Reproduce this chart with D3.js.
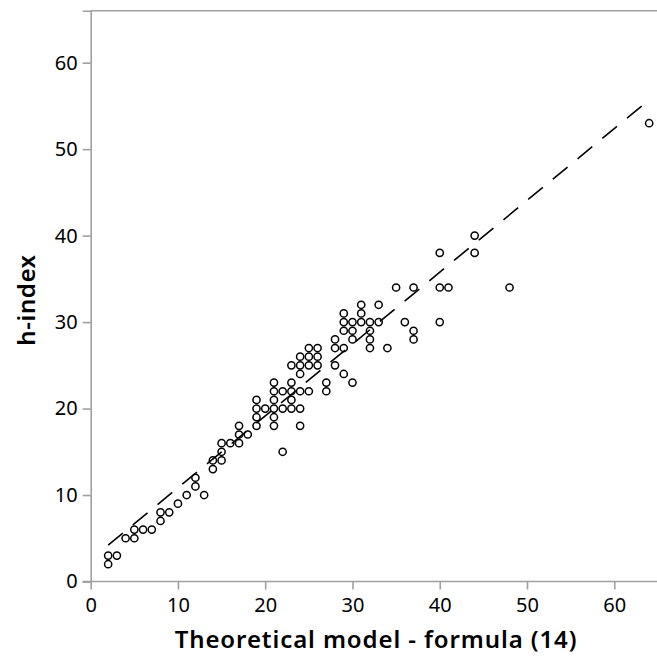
<!DOCTYPE html>
<html>
<head>
<meta charset="utf-8">
<script src="https://cdn.jsdelivr.net/npm/d3@7"></script>
<style>
  body { margin: 0; background: #fff; }
  text { font-family: "Noto Sans", "Open Sans", sans-serif; fill: #000; }
</style>
</head>
<body>
<div id="chart"></div>
<script>
// model estimate (x) vs observed h-index (y)
const modelValues = [2, 2, 3, 4, 5, 5, 6, 7, 8, 8, 9, 10, 11, 12, 12, 13, 14, 14, 15, 15, 15, 16, 17, 17, 17, 18,
  19, 19, 19, 19, 20, 21, 21, 21, 21, 21, 21, 22, 22, 22, 23, 23, 23, 23, 23, 24, 24, 24, 24, 24, 24,
  25, 25, 25, 25, 26, 26, 26, 27, 27, 28, 28, 28, 29, 29, 29, 29, 29, 30, 30, 30, 30, 31, 31, 31,
  32, 32, 32, 32, 33, 33, 34, 35, 36, 37, 37, 37, 40, 40, 40, 41, 44, 44, 48, 64];
const hIndex = [2, 3, 3, 5, 5, 6, 6, 6, 7, 8, 8, 9, 10, 11, 12, 10, 13, 14, 14, 15, 16, 16, 16, 17, 18, 17,
  18, 19, 20, 21, 20, 18, 19, 20, 21, 22, 23, 15, 20, 22, 20, 21, 22, 23, 25, 18, 20, 22, 24, 25, 26,
  22, 25, 26, 27, 25, 26, 27, 22, 23, 25, 27, 28, 24, 27, 29, 30, 31, 23, 28, 29, 30, 30, 31, 32,
  27, 28, 29, 30, 30, 32, 27, 34, 30, 28, 29, 34, 30, 34, 38, 34, 38, 40, 34, 53];

// fitted line end points
const fitX = [2, 64];
const fitY = [4.2, 55.7];

const xTicks = [0, 10, 20, 30, 40, 50, 60];
const yTicks = [0, 10, 20, 30, 40, 50, 60];

const points = modelValues.map((v, i) => ({ x: v, y: hIndex[i] }));

const width = 657;
const height = 658;
const axisColor = "#a0a0a0";

const svg = d3.select("#chart")
  .append("svg")
  .attr("width", width)
  .attr("height", height);

const x = d3.scaleLinear().domain([0, 65]).range([90.7, 657.9]);
const y = d3.scaleLinear().domain([0, 66]).range([581.5, 10.8]);

// top frame line
svg.append("line")
  .attr("x1", x(0)).attr("x2", width)
  .attr("y1", y(66)).attr("y2", y(66))
  .attr("stroke", axisColor)
  .attr("stroke-width", 1.6);

// x axis
const xAxis = svg.append("g")
  .attr("transform", `translate(0,${y(0)})`)
  .call(d3.axisBottom(x).tickValues(xTicks).tickSize(8).tickPadding(8));

// y axis
const yAxis = svg.append("g")
  .attr("transform", `translate(${x(0)},0)`)
  .call(d3.axisLeft(y).tickValues(yTicks).tickSize(8).tickPadding(5));

[xAxis, yAxis].forEach((g) => {
  g.select(".domain").attr("stroke", axisColor).attr("stroke-width", 1.6);
  g.selectAll(".tick line").attr("stroke", axisColor).attr("stroke-width", 1.6);
  g.selectAll(".tick text").style("font-size", "20px").attr("fill", "#000");
});
xAxis.select(".domain").attr("d", `M${x(0) - 8},0H${width}`);

// dashed fit line
svg.append("line")
  .attr("x1", x(fitX[0])).attr("y1", y(fitY[0]))
  .attr("x2", x(fitX[1])).attr("y2", y(fitY[1]))
  .attr("stroke", "#000")
  .attr("stroke-width", 1.6)
  .attr("stroke-dasharray", "19,13");

// points
svg.selectAll("circle")
  .data(points)
  .enter()
  .append("circle")
  .attr("cx", (d) => x(d.x))
  .attr("cy", (d) => y(d.y))
  .attr("r", 3.6)
  .attr("fill", "none")
  .attr("stroke", "#000")
  .attr("stroke-width", 1.5);

// axis titles
svg.append("text")
  .attr("x", 376)
  .attr("y", 648)
  .attr("text-anchor", "middle")
  .style("font-size", "24px")
  .style("font-weight", 600)
  .style("letter-spacing", "0.9px")
  .text("Theoretical model - formula (14)");

svg.append("text")
  .attr("transform", `translate(35,300) rotate(-90)`)
  .attr("text-anchor", "middle")
  .style("font-size", "24px")
  .style("font-weight", 600)
  .style("letter-spacing", "0.6px")
  .text("h-index");
</script>
</body>
</html>
